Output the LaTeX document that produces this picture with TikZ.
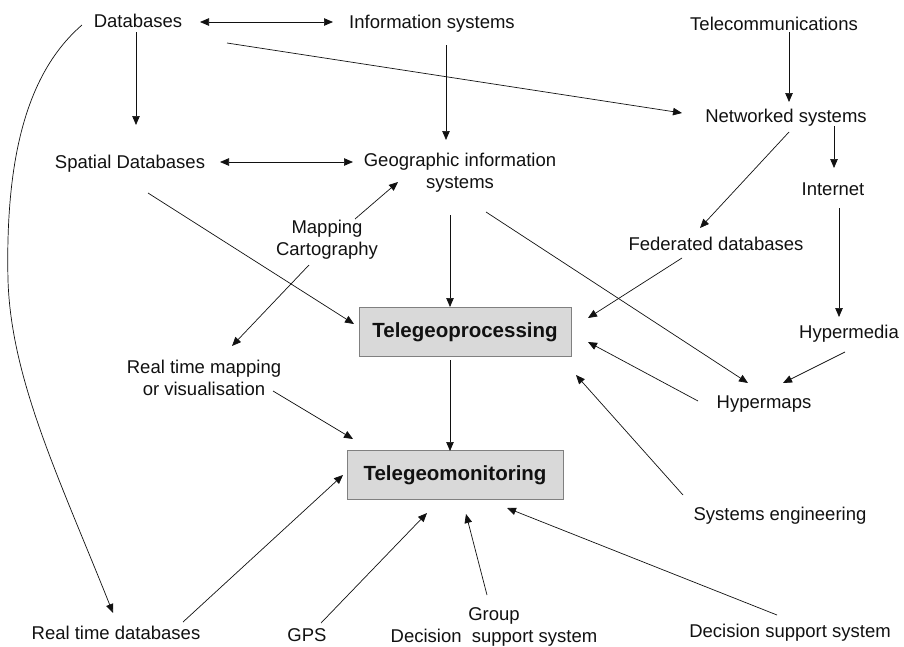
\documentclass[tikz,border=0pt]{standalone}
\usepackage{fontspec}
\setmainfont{Liberation Sans}
\usetikzlibrary{arrows.meta}

\definecolor{boxfill}{HTML}{D9D9D9}
\definecolor{boxline}{HTML}{808080}
\definecolor{ink}{HTML}{111111}

\tikzset{
  lbl/.style={inner sep=0pt, align=center, text=ink, yshift=-2pt,
    font=\fontsize{18.5}{22}\selectfont},
  hub/.style={draw=boxline, fill=boxfill, line width=1pt, inner sep=0pt,
    minimum height=49pt, text=ink, font=\fontsize{20.5}{24}\selectfont\bfseries},
  arr/.style={draw=ink, line width=0.7pt, -{Triangle[length=9pt,width=7.5pt]}},
  biarr/.style={draw=ink, line width=0.7pt,
    {Triangle[length=9pt,width=7.5pt]}-{Triangle[length=9pt,width=7.5pt]}}
}

\begin{document}
\begin{tikzpicture}[x=1pt, y=1pt]
\useasboundingbox (0,0) rectangle (904,-646);

% concepts
\node[lbl] (db)   at (138,-19)  {Databases};
\node[lbl] (is)   at (432,-22)  {Information systems};
\node[lbl] (tel)  at (774,-22)  {Telecommunications};
\node[lbl] (net)  at (786,-116) {Networked systems};
\node[lbl] (sdb)  at (130,-162) {Spatial Databases};
\node[lbl] (gis)  at (460,-171) {Geographic information\\systems};
\node[lbl] (int)  at (833,-187) {Internet};
\node[lbl] (map)  at (327,-238) {Mapping\\Cartography};
\node[lbl] (fed)  at (716,-242) {Federated databases};
\node[lbl] (hmed) at (849,-332) {Hypermedia};
\node[lbl] (rtm)  at (204,-376) {Real time mapping\\or visualisation};
\node[lbl] (hmap) at (764,-402) {Hypermaps};
\node[lbl] (se)   at (780,-514) {Systems engineering};
\node[lbl] (rtdb) at (116,-631) {Real time databases};
\node[lbl] (gps)  at (307,-633) {GPS};
\node[lbl, yshift=2pt, font=\fontsize{18.5}{22.5}\selectfont] (gdss) at (494,-627)
  {Group\\Decision\ \ support system};
\node[lbl] (dss)  at (790,-631) {Decision support system};

% central boxes
\node[hub, minimum width=212pt] (tgp) at (465,-332) {Telegeoprocessing};
\node[hub, minimum width=216pt] (tgm) at (455,-475) {Telegeomonitoring};

% links
\draw[biarr] ([shift={(62,-1)}]db.center) -- ([shift={(-99,2)}]is.center);
\draw[arr] ([shift={(89,-22)}]db.center) -- ([shift={(-104,5)}]net.center);
\draw[arr] ([shift={(15,-8)}]tel.center) -- ([shift={(3,16)}]net.center);
\draw[arr] ([shift={(-2,-11)}]db.center) -- ([shift={(6,39)}]sdb.center);
\draw[arr] ([shift={(14,-21)}]is.center) -- ([shift={(-14,33)}]gis.center);
\draw[biarr] ([shift={(90,2)}]sdb.center) -- ([shift={(-107,11)}]gis.center);
\draw[arr] ([shift={(48,-8)}]net.center) -- ([shift={(1,21)}]int.center);
\draw[arr] ([shift={(3,-14)}]net.center) -- ([shift={(-16,16)}]fed.center);
\draw[arr] ([shift={(6,-19)}]int.center) -- ([shift={(-10,17)}]hmed.center);
\draw[arr] ([shift={(-4,-18)}]hmed.center) -- ([shift={(19,21)}]hmap.center);
\draw[arr] ([shift={(26,-39)}]gis.center) -- ([shift={(-16,21)}]hmap.center);
\draw[arr] ([shift={(-34,-14)}]fed.center) -- ([shift={(123,14)}]tgp.center);
\draw[arr] ([shift={(-66,3)}]hmap.center) -- ([shift={(123,-10)}]tgp.center);
\draw[arr] ([shift={(-97,21)}]se.center) -- ([shift={(111,-43)}]tgp.center);
\draw[arr] ([shift={(-10,-42)}]gis.center) -- ([shift={(-15,25)}]tgp.center);
\draw[arr] ([shift={(-15,-28)}]tgp.center) -- ([shift={(-5,24)}]tgm.center);
\draw[arr] ([shift={(18,-29)}]sdb.center) -- ([shift={(-111,8)}]tgp.center);
\draw[arr] ([shift={(28,21)}]map.center) -- ([shift={(-62,-9)}]gis.center);
\draw[arr] ([shift={(-18,-25)}]map.center) -- ([shift={(28,32)}]rtm.center);
\draw[arr] ([shift={(69,-13)}]rtm.center) -- ([shift={(-102,36)}]tgm.center);
\draw[arr] ([shift={(-56,-4)}]db.center)
  .. controls (30,-70) and (5,-150) .. (8,-280)
  .. controls (11,-380) and (60,-480) .. ([shift={(-3,20)}]rtdb.center);
\draw[arr] ([shift={(67,11)}]rtdb.center) -- ([shift={(-112,0)}]tgm.center);
\draw[arr] ([shift={(14,12)}]gps.center) -- ([shift={(-28,-38)}]tgm.center);
\draw[arr] ([shift={(-7,32)}]gdss.center) -- ([shift={(11,-39)}]tgm.center);
\draw[arr] ([shift={(-13,18)}]dss.center) -- ([shift={(52,-33)}]tgm.center);
\end{tikzpicture}
\end{document}
